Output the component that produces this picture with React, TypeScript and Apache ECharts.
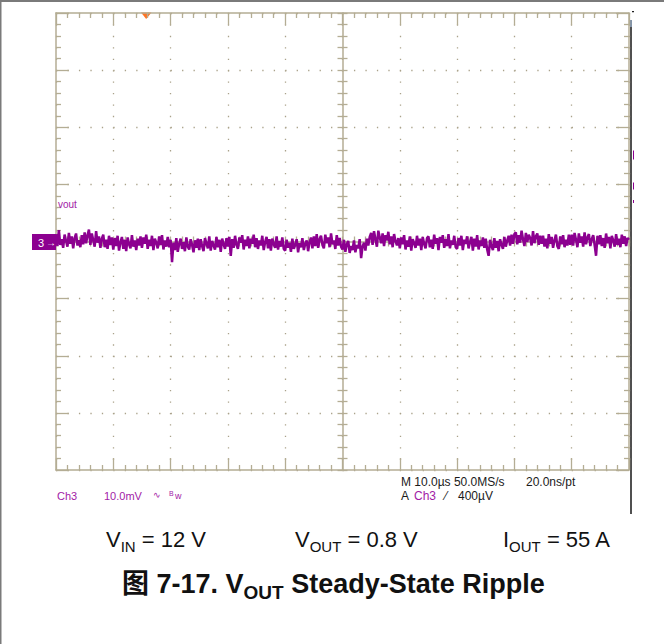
import React, { useEffect, useRef } from "react";
import * as echarts from "echarts";

// Horizontal: 10 divisions of 10 µs; vertical: 8 divisions of 10 mV (Ch3)
const timeDivisionsUs = [0, 10, 20, 30, 40, 50, 60, 70, 80, 90, 100];
const voltDivisionsMv = [-40, -30, -20, -10, 0, 10, 20, 30, 40];
const sampleStepUs = 0.25;

// Vout ripple (mV, relative to the Ch3 marker)
const ripple_mV = [
  1.3, -0.8, 2.0, -0.6, 0.4, -1.1, 1.2, 0.1, -0.9, 1.5, -0.4, 0.9, -1.2, 0.6, 1.4, -0.7, 0.2, -1.0, 1.1, -0.5,
  1.6, -0.3, 1.1, 2.1, -0.6, 1.4, 0.2, -0.9, 1.8, -0.2, 0.9, -1.1, 0.5, 1.2, -1.0, 0.3, -1.3, 1.0, -0.6, 0.7,
  -1.4, 0.6, -0.8, 1.0, -1.6, -0.2, 0.8, -1.3, 0.3, -1.7, 0.7, -0.5, -1.2, 1.1, -0.9, 0.2, -1.5, 0.5, -0.7, 0.9,
  -1.1, 0.7, -0.4, 1.2, -1.3, 0.3, -0.8, 1.0, -1.5, 0.5, -0.2, -1.2, 0.9, -0.6, 1.1, -1.4, 0.2, -0.9, 0.8, -1.0,
  0.3, -3.6, -0.2, -1.5, 0.6, -1.8, -0.4, 0.5, -1.3, -0.1, -1.7, 0.7, -0.9, -1.4, 0.4, -0.6, -1.9, 0.2, -1.1, 0.5,
  -1.5, 0.4, -0.8, -1.7, 0.6, -0.3, -1.2, 0.9, -1.6, 0.1, -0.7, -1.4, 0.8, -1.0, 0.3, -1.8, 0.5, -0.5, -1.3, 0.6,
  -0.9, 0.8, -2.5, 0.4, -1.1, 1.0, -0.6, -1.3, 0.7, -0.2, 1.1, -1.4, 0.3, -0.8, 0.9, -1.2, 0.5, -0.4, 1.2, -1.0,
  0.6, -1.3, 0.2, -0.7, 1.0, -1.5, -0.1, 0.8, -1.2, 0.4, -1.6, 0.5, -0.5, -1.1, 0.9, -1.4, 0.1, -0.9, 0.7, -1.3,
  -1.6, 0.3, -1.1, -0.2, -1.8, 0.5, -1.3, -0.6, 0.4, -1.9, -0.3, -1.0, 0.6, -1.5, -0.4, 0.2, -1.7, -0.1, 0.7, -1.2,
  0.9, -0.8, 1.3, -1.1, 0.4, 1.0, -0.6, -1.2, 1.2, -0.3, 0.7, -1.0, 1.4, -0.5, 0.2, -1.3, 1.1, -0.7, 0.6, -0.9,
  -1.4, 0.3, -1.8, -0.5, 0.1, -2.0, -0.8, -1.5, 0.2, -1.9, -0.6, -1.2, 0.4, -2.9, -0.9, -0.2, -1.6, 0.5, -0.7, 0.8,
  1.5, -0.6, 1.8, 0.4, -0.9, 1.9, 0.7, -0.3, 1.4, -0.8, 1.1, 0.2, 1.7, -0.5, 0.9, -1.0, 1.3, 0.1, -0.7, 0.6,
  -1.2, 0.7, -0.5, 1.1, -1.4, 0.2, -0.9, 0.9, -1.6, 0.4, -0.3, -1.1, 1.0, -0.7, 0.5, -1.5, 0.8, -0.4, -1.2, 0.6,
  0.9, -1.0, 0.3, -1.3, 1.2, -0.4, 0.6, -1.5, 0.8, -0.2, 1.1, -1.1, 0.4, -0.8, 1.3, -1.2, 0.2, -0.6, 1.0, -1.0,
  -1.3, 0.6, -0.7, 1.0, -1.5, 0.3, -0.4, 0.9, -1.2, -0.1, 0.8, -1.6, 0.5, -0.9, 1.1, -1.4, 0.2, -0.8, 0.7, -1.1,
  0.5, -1.4, -2.5, 0.3, -0.8, -1.5, 0.6, -1.1, 0.1, -1.7, 0.4, -0.6, -1.3, 0.8, -0.9, 0.2, 1.0, -0.7, 1.2, -0.4,
  1.3, 1.6, -0.5, 1.1, -0.2, 1.9, 0.4, -0.8, 1.5, -0.1, 1.2, 0.6, -0.7, 1.8, -0.3, 0.9, 1.4, -0.6, 1.0, -0.4,
  1.0, -0.9, 0.5, -1.2, 1.3, -0.4, 0.8, -1.1, 0.2, 1.2, -0.8, -1.3, 0.9, -0.5, 1.1, -1.0, 0.3, -0.7, 1.2, -0.6,
  1.2, -0.7, 1.5, 0.3, -1.0, 1.4, -0.2, 0.9, -0.9, 1.6, -0.5, 0.7, 1.3, -0.8, 0.4, 1.1, -0.6, -2.5, 1.0, -0.5,
  1.1, -0.8, 0.6, -1.1, 1.4, -0.3, 0.8, -1.2, 1.0, 0.2, -0.9, 1.3, -0.6, 0.5, -1.0, 1.2, -0.4, 0.9, -0.8, 0.6,
  0.3,
];

const channelLabels = ["Ch3", "10.0mV", "vout"];
const acquisitionLabels = ["M 10.0µs 50.0MS/s", "20.0ns/pt", "A", "Ch3", "400µV"];

const GRID = "#b4ad94";
const TRACE = "#8c0090";
const LABEL_PURPLE = "#a21aa6";
const FONT = "'Liberation Sans', Arial, 'Noto Sans CJK SC', sans-serif";

type Part = [string, number, string, number];

let measureCtx: CanvasRenderingContext2D | null = null;
function measure(text: string, font: string) {
  if (!measureCtx) measureCtx = document.createElement("canvas").getContext("2d");
  if (!measureCtx) return text.length * 10;
  measureCtx.font = font;
  return measureCtx.measureText(text).width;
}

function subscriptLine(x: number, y: number, parts: Part[], fill: string) {
  const els: any[] = [];
  let cx = x;
  parts.forEach(([t, size, weight, dy]) => {
    const font = `${weight} ${size}px ${FONT}`;
    els.push({
      type: "text",
      x: cx,
      y: y + dy,
      silent: true,
      style: { text: t, fill, font, textAlign: "left", textVerticalAlign: "middle" },
    });
    cx += measure(t, font);
  });
  return els;
}

export default function App() {
  const ref = useRef<HTMLDivElement>(null);

  useEffect(() => {
    if (!ref.current) return;
    const chart = echarts.init(ref.current, null, { renderer: "svg" });
    const data = ripple_mV.map((v, i) => [i * sampleStepUs, v]);
    const xMin = timeDivisionsUs[0];
    const xMax = timeDivisionsUs[timeDivisionsUs.length - 1];
    const yMin = voltDivisionsMv[0];
    const yMax = voltDivisionsMv[voltDivisionsMv.length - 1];

    const frameX = (position: string, offset: number, inside: boolean, major: number, showSplit: boolean, showLine = true) => ({
      type: "value",
      min: xMin,
      max: xMax,
      interval: 10,
      position,
      offset,
      axisLine: { show: showLine, onZero: false, lineStyle: { color: GRID, width: 1.5 } },
      axisTick: { show: true, inside, length: major, lineStyle: { color: GRID, width: 1.3 } },
      minorTick: { show: true, splitNumber: 5, length: 5, lineStyle: { color: GRID, width: 1.3 } },
      axisLabel: { show: false },
      splitLine: { show: showSplit, lineStyle: { color: "#aaa28a", width: 1.3, type: [1.3, 457 / 40 - 1.3] } },
      minorSplitLine: { show: false },
    });
    const frameY = (position: string, offset: number, inside: boolean, major: number, showSplit: boolean, showLine = true) => ({
      type: "value",
      min: yMin,
      max: yMax,
      interval: 10,
      position,
      offset,
      axisLine: { show: showLine, onZero: false, lineStyle: { color: GRID, width: 1.5 } },
      axisTick: { show: true, inside, length: major, lineStyle: { color: GRID, width: 1.3 } },
      minorTick: { show: true, splitNumber: 5, length: 5, lineStyle: { color: GRID, width: 1.3 } },
      axisLabel: { show: false },
      splitLine: { show: showSplit, lineStyle: { color: "#aaa28a", width: 1.3, type: [1.3, 573 / 50 - 1.3] } },
      minorSplitLine: { show: false },
    });

    const txt = (x: number, y: number, text: string, fill: string, size = 11, z = 1) => ({
      type: "text",
      x,
      y,
      z,
      silent: true,
      style: { text, fill, font: `${size}px ${FONT}`, textAlign: "left", textVerticalAlign: "middle" },
    });

    const captionFill = "#111111";
    const graphics: any[] = [
      // page border lines
      { type: "rect", shape: { x: 0, y: 0, width: 664, height: 2 }, style: { fill: "#7a7a7a" }, silent: true },
      { type: "rect", shape: { x: 0, y: 0, width: 1.5, height: 644 }, style: { fill: "#7a7a7a" }, silent: true },
      // right scope bar
      { type: "rect", shape: { x: 630, y: 27, width: 2, height: 487 }, style: { fill: "#505050" }, silent: true },
      { type: "rect", shape: { x: 630, y: 20, width: 2, height: 7 }, style: { fill: "#8293a8" }, silent: true },
      { type: "rect", shape: { x: 632, y: 11, width: 2, height: 1.2 }, style: { fill: "#222" }, silent: true },
      { type: "rect", shape: { x: 633, y: 150.5, width: 1, height: 9 }, style: { fill: TRACE }, silent: true },
      { type: "rect", shape: { x: 633, y: 182.5, width: 1, height: 7 }, style: { fill: TRACE }, silent: true },
      { type: "rect", shape: { x: 633, y: 200, width: 1, height: 3 }, style: { fill: TRACE }, silent: true },
      // trigger position marker
      { type: "polygon", shape: { points: [[141, 12.5], [151.5, 12.5], [146.2, 19]] }, style: { fill: "#ff7424" }, silent: true },
      // channel ground marker
      { type: "rect", z: 10, shape: { x: 32, y: 234, width: 24, height: 16 }, style: { fill: TRACE }, silent: true },
      txt(38, 242.5, "3", "#ffffff", 11, 20),
      txt(46, 242, "→", "#ffffff", 10, 20),
      txt(58, 204, channelLabels[2], LABEL_PURPLE, 10),
      // channel settings
      txt(57, 495.5, channelLabels[0], LABEL_PURPLE, 11),
      txt(104, 495.5, channelLabels[1], LABEL_PURPLE, 11),
      txt(153, 495, "∿", LABEL_PURPLE, 9),
      txt(169, 493, "B", LABEL_PURPLE, 7),
      txt(175, 496, "w", LABEL_PURPLE, 9),
      // acquisition settings
      txt(401, 482, acquisitionLabels[0], "#1a1a1a", 12),
      txt(526, 482, acquisitionLabels[1], "#1a1a1a", 12),
      txt(401, 495.5, acquisitionLabels[2], "#1a1a1a", 12),
      txt(414, 495.5, acquisitionLabels[3], LABEL_PURPLE, 12),
      txt(445, 495.5, "⁄", "#1a1a1a", 12),
      txt(458, 495.5, acquisitionLabels[4], "#1a1a1a", 12),
      // captions
      ...subscriptLine(106, 539, [["V", 22, "normal", 0], ["IN", 15, "normal", 7], [" = 12 V", 22, "normal", 0]], captionFill),
      ...subscriptLine(295, 539, [["V", 22, "normal", 0], ["OUT", 15, "normal", 7], [" = 0.8 V", 22, "normal", 0]], captionFill),
      ...subscriptLine(503, 539, [["I", 22, "normal", 0], ["OUT", 15, "normal", 7], [" = 55 A", 22, "normal", 0]], captionFill),
      ...subscriptLine(122, 584, [["图 7-17. V", 27, "bold", 0], ["OUT", 19, "bold", 8], [" Steady-State Ripple", 27, "bold", 0]], captionFill),
    ];

    chart.setOption({
      animation: false,
      backgroundColor: "#ffffff",
      grid: { left: 56, top: 13, width: 573, height: 457, containLabel: false },
      xAxis: [
        frameX("bottom", 0, true, 12, true),
        frameX("top", 0, true, 12, false),
        frameX("bottom", -228.5, true, 5, false),
        frameX("bottom", -228.5, false, 5, false, false),
      ],
      yAxis: [
        frameY("left", 0, true, 13, true),
        frameY("right", 0, true, 13, false),
        frameY("left", -286.5, true, 5, false),
        frameY("left", -286.5, false, 5, false, false),
      ],
      series: [
        {
          type: "line",
          xAxisIndex: 0,
          yAxisIndex: 0,
          data,
          showSymbol: false,
          symbol: "none",
          lineStyle: { color: TRACE, width: 2.5 },
          clip: true,
          z: 5,
        },
      ],
      graphic: graphics,
    });
    return () => chart.dispose();
  }, []);

  return <div ref={ref} style={{ position: "fixed", left: 0, top: 0, width: 664, height: 644, background: "#fff" }} />;
}
